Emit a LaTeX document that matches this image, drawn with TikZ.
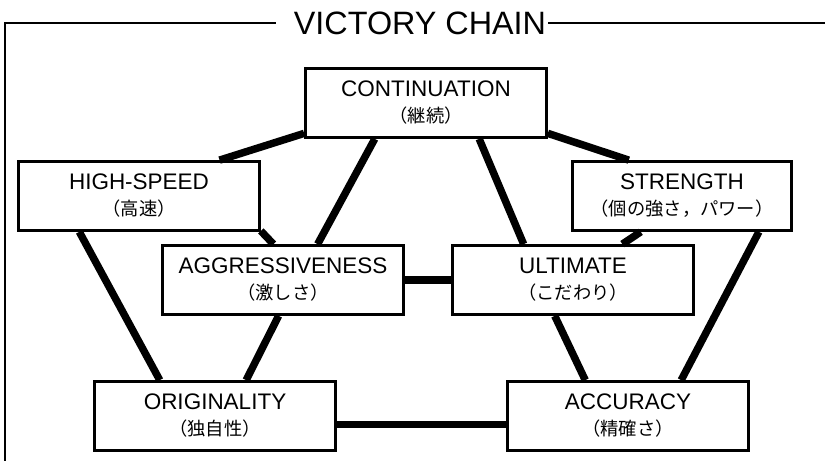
\documentclass[tikz,border=0pt]{standalone}
\usepackage{fontspec}
\setmainfont{Liberation Sans}
\newfontfamily\jpfont{Noto Sans CJK JP}
\newcommand{\jp}[1]{{\jpfont\fontsize{13}{15}\selectfont #1}}

\tikzset{
  vbox/.style={draw, line width=1.8pt, minimum width=6.03cm, minimum height=1.73cm,
    inner sep=0pt, align=center, font=\fontsize{16}{18.5}\selectfont},
  chainline/.style={line width=5.3pt},
  frameline/.style={line width=1.1pt},
}

\begin{document}
\begin{tikzpicture}
    \useasboundingbox (0,0) rectangle (20.625,11.525);

    % 1. Define Coordinates
    \coordinate (BL) at (0.125, 0);      % Bottom Left
    \coordinate (TL) at (0.125, 10.95);  % Top Left
    \coordinate (TR) at (20.625, 10.95); % Top Right

    % 2. Title and frame
    \node[anchor=base, inner sep=0pt, font=\fontsize{23}{25}\selectfont] (title) at (10.5, 10.65) {VICTORY CHAIN};
    \path (title.west |- TL) coordinate (TM1);
    \path (title.east |- TL) coordinate (TM2);
    \draw[frameline] (BL) -- (TL) -- ([xshift=-0.45cm]TM1);
    \draw[frameline] ([xshift=0.05cm]TM2) -- (TR);

    % 3. Draw the Boxes
    \node[vbox] (cont) at (10.65, 8.95) {CONTINUATION\\\jp{（継続）}};
    \node[vbox] (hs) at (3.475, 6.625) {HIGH-SPEED\\\jp{（高速）}};
    \node[vbox, minimum width=5.48cm] (str) at (17.05, 6.625) {STRENGTH\\\jp{（個の強さ，パワー）}};
    \node[vbox] (aggr) at (7.075, 4.525) {AGGRESSIVENESS\\\jp{（激しさ）}};
    \node[vbox] (ult) at (14.325, 4.525) {ULTIMATE\\\jp{（こだわり）}};
    \node[vbox] (orig) at (5.375, 1.125) {ORIGINALITY\\\jp{（独自性）}};
    \node[vbox] (acc) at (15.7, 1.125) {ACCURACY\\\jp{（精確さ）}};

    % 4. Draw the Links
    \begin{scope}[chainline]
        % from the top box
        \draw (cont.194) -- (hs.24);
        \draw (cont.215) -- (aggr.46);
        \draw (cont.326) -- (ult.144);
        \draw (cont.346) -- (str.146);

        % left side
        \draw (hs.344) -- (aggr.105);
        \draw (hs.211) -- (orig.147);
        \draw (aggr.263) -- (orig.49);

        % right side
        \draw (str.221) -- (ult.36);
        \draw (str.335) -- (acc.34);
        \draw (ult.243) -- (acc.140);

        % the two bars
        \draw (aggr.east) -- (ult.west);
        \draw (orig.356) -- (acc.184);
    \end{scope}
\end{tikzpicture}
\end{document}
